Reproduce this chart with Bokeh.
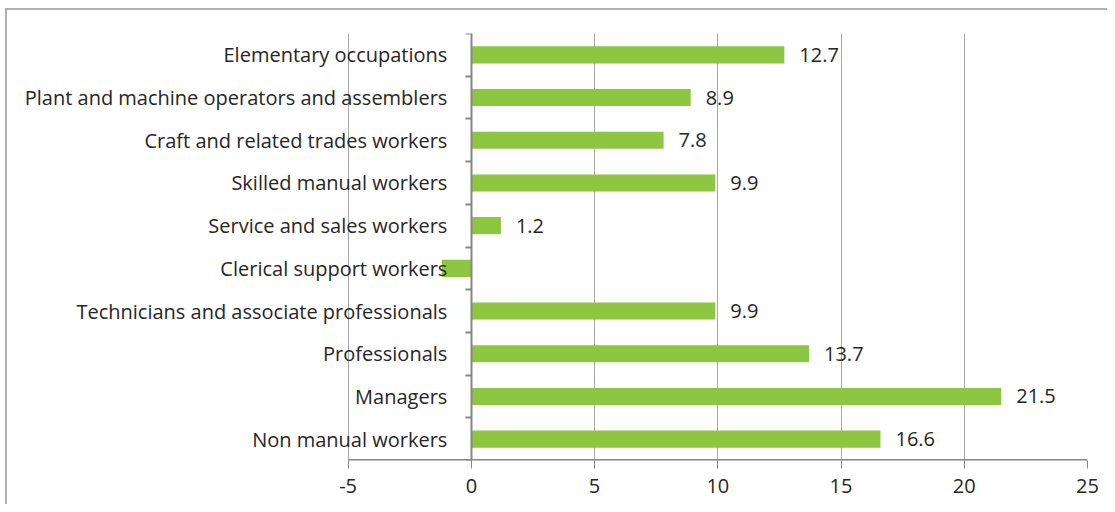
from bokeh.plotting import figure
from bokeh.models import ColumnDataSource, FixedTicker, LinearAxis, Range1d, LabelSet
from bokeh.core.properties import value
from bokeh.embed import file_html
from bokeh.resources import INLINE

# Categories listed top to bottom as in the chart
categories = [
    "Elementary occupations",
    "Plant and machine operators and assemblers",
    "Craft and related trades workers",
    "Skilled manual workers",
    "Service and sales workers",
    "Clerical support workers",
    "Technicians and associate professionals",
    "Professionals",
    "Managers",
    "Non manual workers",
]
values = [12.7, 8.9, 7.8, 9.9, 1.2, -1.2, 9.9, 13.7, 21.5, 16.6]
x_ticks = [-5, 0, 5, 10, 15, 20, 25]

FONT = "Open Sans"
FS = "20px"
TXT = "#262626"
AX = "#868686"
LEFT_PAD = 13.78   # room on the left of the value axis for the category names
n = len(categories)
ys = [n - 1 - i for i in range(n)]

bars = ColumnDataSource(dict(
    y=ys, v=values, cat=categories, zero=[0] * n,
))
pos = [i for i in range(n) if values[i] > 0]
labels = ColumnDataSource(dict(
    y=[ys[i] for i in pos],
    v=[values[i] for i in pos],
    t=[f"{values[i]:.1f}" for i in pos],
))

p = figure(width=1102, height=496, output_backend="svg", toolbar_location=None,
           x_range=Range1d(x_ticks[0] - LEFT_PAD, x_ticks[-1]),
           y_range=Range1d(-0.5, n - 0.5),
           y_axis_location=None, min_border_left=1, min_border_right=22,
           min_border_top=23, min_border_bottom=46)
p.outline_line_color = None
p.styles = {"border-left": "2px solid #b0b0b0", "border-top": "2px solid #b0b0b0",
            "margin-left": "5px", "margin-top": "8px"}

# grid
p.ygrid.visible = False
p.xgrid.ticker = FixedTicker(ticks=x_ticks)
p.xgrid.grid_line_color = "#a6a6a6"
p.xgrid.grid_line_width = 1

# x axis (line drawn only over the tick span)
xa = p.xaxis[0]
xa.ticker = FixedTicker(ticks=x_ticks)
xa.major_label_overrides = {t: str(t) for t in x_ticks}
xa.axis_line_color = None
xa.major_tick_line_color = AX
xa.major_tick_out = 8
xa.major_tick_in = 0
xa.minor_tick_out = 0
xa.minor_tick_in = 0
xa.major_label_text_font = FONT
xa.major_label_text_font_size = FS
xa.major_label_text_color = TXT
xa.major_label_standoff = 10
p.segment(x0=[x_ticks[0]], x1=[x_ticks[-1]], y0=[-0.5], y1=[-0.5],
          line_color=AX, line_width=3)

p.hbar(y="y", left="zero", right="v", height=0.4, source=bars,
       fill_color="#8DC641", line_color=None)

# category axis at zero, labels at bar centres, tick marks at category boundaries
ya = LinearAxis(fixed_location=0,
                ticker=FixedTicker(ticks=ys, minor_ticks=[k - 0.5 for k in range(n + 1)]))
ya.major_label_overrides = {yv: cat for yv, cat in zip(ys, categories)}
ya.axis_line_color = AX
ya.axis_line_width = 2
ya.major_tick_out = 0
ya.major_tick_in = 0
ya.minor_tick_out = 6
ya.minor_tick_in = 0
ya.minor_tick_line_color = AX
ya.minor_tick_line_width = 2
ya.major_label_text_font = FONT
ya.major_label_text_font_size = FS
ya.major_label_text_color = TXT
ya.major_label_standoff = 18
p.add_layout(ya, "left")

p.add_layout(LabelSet(x="v", y="y", text="t", source=labels, text_align="left",
                      text_baseline="middle", x_offset=15, text_font=value(FONT),
                      text_font_size=value(FS), text_color=TXT))

open("out.html", "w").write(file_html(p, INLINE))
